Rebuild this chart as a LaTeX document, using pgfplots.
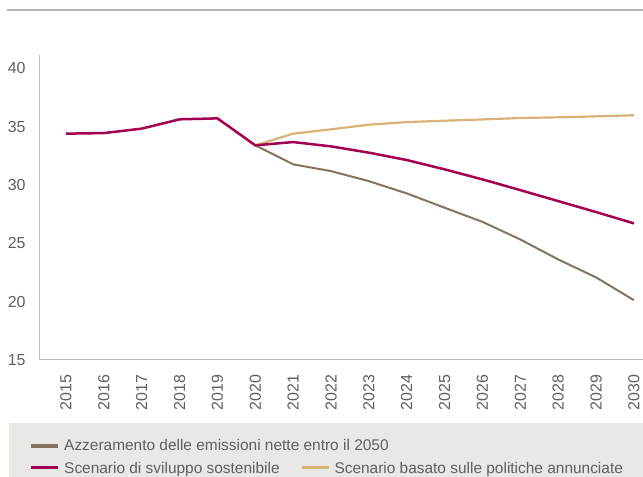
\documentclass[border=0pt]{standalone}
\usepackage{fontspec}
\setmainfont{Liberation Sans}
\usepackage{pgfplots}
\pgfplotsset{compat=1.18}
\definecolor{cbrown}{RGB}{132,115,95}
\definecolor{cpurple}{RGB}{163,0,82}
\definecolor{cgold}{RGB}{215,179,119}
\definecolor{ctext}{RGB}{95,95,95}
\definecolor{caxis}{RGB}{185,185,185}
\definecolor{clegbg}{RGB}{234,232,228}
\definecolor{ctop}{RGB}{180,180,180}
\begin{document}
\begin{tikzpicture}[x=1bp,y=1bp]
\useasboundingbox (-40,-117) rectangle (603,360);
\fill[clegbg] (-31,-63) rectangle (603,-117);
\draw[ctop, line width=2.5bp] (-33,350) -- (603,350);
\begin{axis}[
  at={(0,0)}, anchor=south west,
  scale only axis, width=603bp, height=304.5bp,
  xmin=2014.313, xmax=2030.24, ymin=15, ymax=41.1,
  axis x line*=bottom, axis y line*=left,
  axis line style={caxis, line width=1bp, -},
  xtick={2015,2016,...,2030}, ytick={15,20,25,30,35,40},
  major tick length=0pt,
  /pgf/number format/assume math mode=true,
  /pgf/number format/1000 sep={},
  tick label style={font=\fontsize{16}{19}\selectfont, text=ctext},
  x tick label style={rotate=90, anchor=east, inner sep=0pt, xshift=-14.5bp},
  y tick label style={anchor=east, inner sep=0pt, xshift=-14.3bp},
  clip=false,
]
\addplot[cgold, line width=2.2bp, line join=round] coordinates {
(2020,33.40) (2021,34.40) (2022,34.77) (2023,35.17) (2024,35.39) (2025,35.51)
(2026,35.62) (2027,35.74) (2028,35.80) (2029,35.88) (2030,35.98)};
\addplot[cbrown, line width=2bp, line join=round] coordinates {
(2020,33.40) (2021,31.77) (2022,31.19) (2023,30.33) (2024,29.28) (2025,28.05)
(2026,26.84) (2027,25.33) (2028,23.62) (2029,22.08) (2030,20.13)};
\addplot[cpurple, line width=2.5bp, line join=round] coordinates {
(2015,34.40) (2016,34.45) (2017,34.83) (2018,35.63) (2019,35.71) (2020,33.40)
(2021,33.68) (2022,33.31) (2023,32.77) (2024,32.14) (2025,31.34)
(2026,30.48) (2027,29.56) (2028,28.62) (2029,27.68) (2030,26.71)};
\end{axis}
% legend
\draw[cbrown, line width=3.3bp] (-9,-86) -- (17.7,-86);
\node[anchor=base west, inner sep=0pt, text=ctext, font=\fontsize{15.5}{18}\selectfont] at (24,-91) {Azzeramento delle emissioni nette entro il 2050};
\draw[cpurple, line width=3.3bp] (-9,-107.3) -- (17.7,-107.3);
\node[anchor=base west, inner sep=0pt, text=ctext, font=\fontsize{15.5}{18}\selectfont] at (24,-114) {Scenario di sviluppo sostenibile};
\draw[cgold, line width=3.3bp] (262,-107.3) -- (289,-107.3);
\node[anchor=base west, inner sep=0pt, text=ctext, font=\fontsize{15.5}{18}\selectfont] at (294.3,-114) {Scenario basato sulle politiche annunciate};
\end{tikzpicture}
\end{document}
